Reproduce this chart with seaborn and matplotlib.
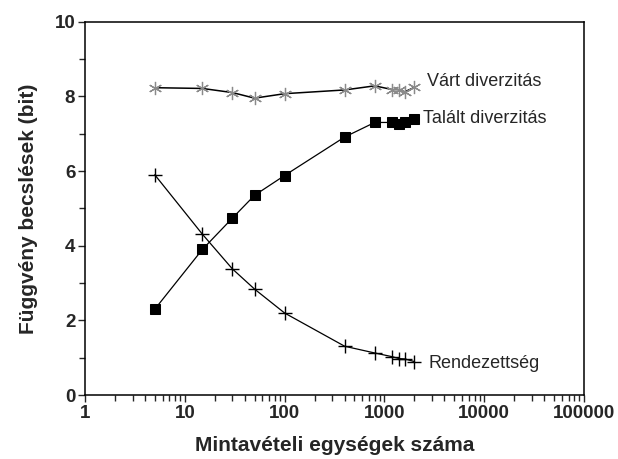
import matplotlib
matplotlib.use("Agg")
import matplotlib.pyplot as plt
import matplotlib.ticker as mticker
import pandas as pd
import seaborn as sns

# sample sizes (shared by all three series)
sample_units = [5, 15, 30, 50, 100, 400, 800, 1200, 1400, 1600, 2000]

# estimated values (bit)
expected_div = [8.23, 8.21, 8.10, 7.95, 8.07, 8.17, 8.28, 8.18, 8.18, 8.12, 8.24]
found_div = [2.30, 3.90, 4.74, 5.35, 5.88, 6.91, 7.30, 7.30, 7.25, 7.32, 7.38]
order_vals = [5.90, 4.31, 3.38, 2.84, 2.20, 1.31, 1.13, 1.03, 0.98, 0.97, 0.90]

series_names = ["Várt diverzitás", "Talált diverzitás", "Rendezettség"]
x_ticks = [1, 10, 100, 1000, 10000, 100000]
y_ticks = [0, 2, 4, 6, 8, 10]

sns.set_theme(style="ticks")
plt.rcParams["font.family"] = ["Liberation Sans", "DejaVu Sans"]

df = pd.DataFrame({
    "n": sample_units * 3,
    "value": expected_div + found_div + order_vals,
    "series": [s for s in series_names for _ in sample_units],
})

fig = plt.figure(figsize=(6.18, 4.59), dpi=100)
ax = fig.add_axes([0.1375, 0.139, 0.8075, 0.814])

styles = {
    "Várt diverzitás": dict(marker=(6, 2, 0), markersize=9.5, markeredgecolor="#8a8a8a",
                            markeredgewidth=0.9, color="black", linewidth=1.1),
    "Talált diverzitás": dict(marker="s", markersize=6.6, markerfacecolor="black",
                              markeredgecolor="black", color="black", linewidth=0.9),
    "Rendezettség": dict(marker="+", markersize=10, markeredgecolor="black",
                         markeredgewidth=1.0, color="black", linewidth=0.9),
}
label_offsets = {
    "Várt diverzitás": (13, 6),
    "Talált diverzitás": (9, 1),
    "Rendezettség": (14, -2),
}

for name in series_names:
    sub = df[df["series"] == name]
    sns.lineplot(data=sub, x="n", y="value", ax=ax, sort=False, **styles[name])
    last = sub.iloc[-1]
    ax.annotate(name, xy=(last["n"], last["value"]), xytext=label_offsets[name],
                textcoords="offset pixels", ha="left", va="center", fontsize=13)

ax.set_xscale("log")
ax.set_xlim(1, 100000)
ax.set_ylim(0, 10)
ax.xaxis.set_major_locator(mticker.FixedLocator(x_ticks))
ax.xaxis.set_major_formatter(mticker.FuncFormatter(lambda v, p: f"{int(round(v))}"))
ax.xaxis.set_minor_locator(mticker.LogLocator(base=10, subs=range(2, 10)))
ax.xaxis.set_minor_formatter(mticker.NullFormatter())
ax.yaxis.set_major_locator(mticker.FixedLocator(y_ticks))
ax.yaxis.set_minor_locator(mticker.MultipleLocator(1))

ax.tick_params(which="major", direction="out", length=5, width=1, labelsize=13.5, pad=2)
ax.tick_params(which="minor", direction="out", length=4, width=1)
for lab in ax.get_xticklabels() + ax.get_yticklabels():
    lab.set_fontweight("bold")

for sp in ax.spines.values():
    sp.set_visible(True)
    sp.set_linewidth(1.1)
    sp.set_color("black")

ax.set_xlabel("Mintavételi egységek száma", fontsize=15, fontweight="bold", labelpad=10)
ax.set_ylabel("Függvény becslések (bit)", fontsize=15, fontweight="bold", labelpad=12)

fig.savefig("out.png", dpi=100)
